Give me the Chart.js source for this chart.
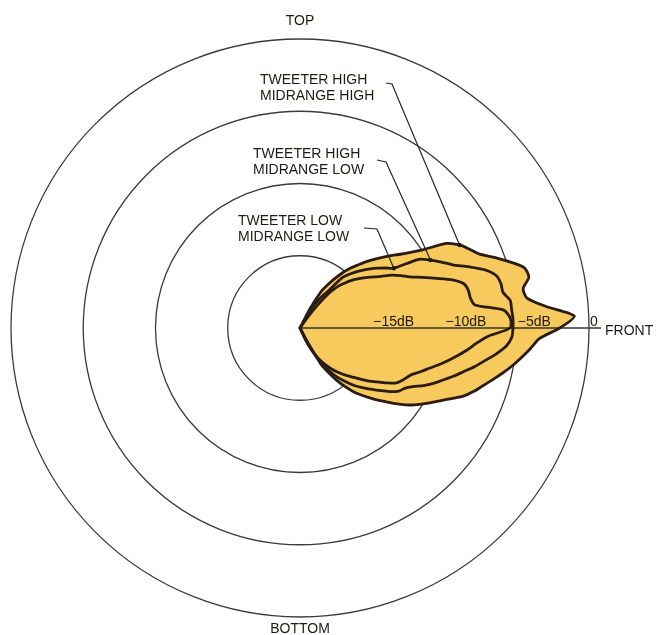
<!DOCTYPE html>
<html lang="en">
  <head>
    <meta charset="UTF-8" />
    <title>Polar response</title>
    <script src="https://cdn.jsdelivr.net/npm/chart.js"></script>
    <style>
      body {
        margin: 0;
        background: #fff;
      }
      .chart-box {
        width: 656px;
        height: 635px;
      }
    </style>
  </head>
  <body>
    <div class="chart-box"><canvas id="polarChart"></canvas></div>

    <script>
      // angle round the speaker, clockwise from TOP, 2.5 degree steps (front = 90)
      const angleStep = 2.5;
      const angles = Array.from({ length: 144 }, (_, i) => i * angleStep);

      // level in dB for 0..180 degrees (front half only)
      const tweeterHighMidHigh = [
        -20, -20, -20, -20, -20, -20, -20, -20, -20, -20, -20, -18.5, -17.1,
        -16.5, -15.85, -15.2, -14.6, -14.1, -13.5, -12.95, -12.35, -11.7,
        -10.98, -9.95, -8.3, -7.55, -7.08, -6.6, -5.7, -4.78, -3.92, -3.78,
        -4.32, -4.15, -2.9, -1.0, -2.03, -3.4, -3.97, -4.52, -5.06, -5.62,
        -6.19, -6.72, -7.19, -7.72, -8.44, -9.09, -9.63, -10.17, -10.71,
        -11.35, -12.0, -12.58, -13.16, -13.71, -14.25, -14.9, -15.6, -16.36,
        -17.1, -19.2, -20, -20, -20, -20, -20, -20, -20, -20, -20, -20, -20,
      ];
      const tweeterHighMidLow = [
        -20, -20, -20, -20, -20, -20, -20, -20, -20, -20, -20, -20, -18.6,
        -17.9, -17.3, -16.7, -15.45, -14.95, -14.5, -14.06, -13.63, -13.2,
        -12.76, -12.3, -10.5, -9.82, -9.2, -8.57, -7.59, -6.6, -5.95, -5.76,
        -5.74, -5.33, -5.3, -5.25, -5.26, -5.33, -5.67, -6.3, -7.0, -7.64,
        -8.3, -8.88, -9.47, -10.0, -10.57, -11.2, -11.64, -11.88, -12.32,
        -12.87, -13.37, -13.81, -14.25, -14.7, -15.18, -15.67, -16.2, -16.9,
        -17.7, -18.7, -20, -20, -20, -20, -20, -20, -20, -20, -20, -20, -20,
      ];
      const tweeterLowMidLow = [
        -20, -20, -20, -20, -20, -20, -20, -20, -20, -20, -20, -20, -20, -20,
        -19.2, -18.0, -16.8, -16.07, -15.6, -15.1, -14.68, -14.27, -13.85,
        -13.34, -12.68, -12.15, -11.63, -10.85, -9.95, -8.94, -8.24, -8.06,
        -8.03, -7.79, -5.85, -5.42, -5.47, -6.96, -7.76, -8.34, -8.94, -9.53,
        -10.1, -10.67, -11.14, -11.61, -11.87, -12.08, -12.37, -12.93, -13.49,
        -13.97, -14.46, -14.94, -15.32, -15.68, -16.04, -16.42, -16.86, -17.3,
        -17.75, -18.3, -19.0, -20, -20, -20, -20, -20, -20, -20, -20, -20, -20,
      ];

      // rings and their labels on the front axis
      const ringValues = [-15, -10, -5, 0];
      const ringLabels = ["\u221215dB", "\u221210dB", "\u22125dB", "0"];

      // notes: text lines, where they sit, which curve point the leader goes to
      const notes = [
        { lines: ["TWEETER HIGH", "MIDRANGE HIGH"], x: 260, y: 84, tick: [386, 83, 392, 84], series: 0, angle: 62.5 },
        { lines: ["TWEETER HIGH", "MIDRANGE LOW"], x: 253, y: 158, tick: [377, 160, 386, 162], series: 1, angle: 62.5 },
        { lines: ["TWEETER LOW", "MIDRANGE LOW"], x: 238, y: 225, tick: [364, 228, 377, 229], series: 1, angle: 57.5 },
      ];

      const ink = "#1f1a16";
      const font = '14px "Liberation Sans", Arial, sans-serif';

      // back half has no reading
      const pad = (arr) => arr.concat(new Array(angles.length - arr.length).fill(null));

      const annotate = {
        id: "annotate",
        beforeDatasetsDraw(chart) {
          const ctx = chart.ctx;
          const s = chart.scales.r;
          ctx.save();
          // front axis
          ctx.strokeStyle = "#333";
          ctx.lineWidth = 1.3;
          ctx.beginPath();
          ctx.moveTo(s.xCenter, s.yCenter);
          ctx.lineTo(s.xCenter + s.drawingArea + 12, s.yCenter);
          ctx.stroke();
          // dB labels
          ctx.fillStyle = ink;
          ctx.font = font;
          ctx.textBaseline = "alphabetic";
          ringValues.forEach((v, i) => {
            const r = s.getDistanceFromCenterForValue(v);
            ctx.fillText(ringLabels[i], s.xCenter + r + 1, s.yCenter - 2);
          });
          ctx.restore();
        },
        afterDraw(chart) {
          const ctx = chart.ctx;
          const s = chart.scales.r;
          ctx.save();
          ctx.fillStyle = ink;
          ctx.strokeStyle = "#2a2522";
          ctx.font = font;
          ctx.textAlign = "center";
          ctx.fillText("TOP", s.xCenter, s.yCenter - s.drawingArea - 14);
          ctx.fillText("BOTTOM", s.xCenter, s.yCenter + s.drawingArea + 16);
          ctx.textAlign = "left";
          ctx.fillText("FRONT", s.xCenter + s.drawingArea + 16, s.yCenter + 7);

          notes.forEach((n) => {
            n.lines.forEach((t, i) => ctx.fillText(t, n.x, n.y + i * 15.5));
            const idx = angles.indexOf(n.angle);
            const pt = chart.getDatasetMeta(n.series).data[idx];
            ctx.lineWidth = 1.2;
            ctx.beginPath();
            ctx.moveTo(n.tick[0], n.tick[1]);
            ctx.lineTo(n.tick[2], n.tick[3]);
            ctx.lineTo(pt.x, pt.y);
            ctx.stroke();
            ctx.beginPath();
            ctx.arc(pt.x, pt.y, 2.2, 0, Math.PI * 2);
            ctx.fill();
          });
          ctx.restore();
        },
      };

      const ctx = document.getElementById("polarChart").getContext("2d");
      const polarChart = new Chart(ctx, {
        type: "radar",
        data: {
          labels: angles,
          datasets: [
            {
              label: "Tweeter high, midrange high",
              data: pad(tweeterHighMidHigh),
              borderColor: "#2a1c12",
              backgroundColor: "#f7ca5e",
              borderWidth: 2.8,
              fill: "start",
            },
            {
              label: "Tweeter high, midrange low",
              data: pad(tweeterHighMidLow),
              borderColor: "#2a1c12",
              borderWidth: 2.8,
              fill: false,
            },
            {
              label: "Tweeter low, midrange low",
              data: pad(tweeterLowMidLow),
              borderColor: "#2a1c12",
              borderWidth: 2.8,
              fill: false,
            },
          ],
        },
        options: {
          responsive: true,
          maintainAspectRatio: false,
          animation: false,
          events: [],
          spanGaps: true,
          layout: { padding: { left: 11, right: 67, top: 39, bottom: 18 } },
          elements: {
            line: { tension: 0.25, borderJoinStyle: "round" },
            point: { radius: 0, hoverRadius: 0 },
          },
          scales: {
            r: {
              min: -20,
              max: 0,
              z: 1,
              ticks: { display: false, stepSize: 5 },
              grid: { circular: true, color: "#3a3a3a", lineWidth: 1.3 },
              angleLines: { display: false },
              pointLabels: { display: false },
              afterUpdate(scale) {
                const a = scale.chart.chartArea;
                scale.xCenter = (a.left + a.right) / 2;
                scale.yCenter = (a.top + a.bottom) / 2;
                scale.drawingArea = Math.min(a.right - a.left, a.bottom - a.top) / 2;
              },
            },
          },
          plugins: {
            legend: { display: false },
            tooltip: { enabled: false },
            filler: { drawTime: "beforeDatasetsDraw" },
          },
        },
        plugins: [annotate],
      });
    </script>
  </body>
</html>
